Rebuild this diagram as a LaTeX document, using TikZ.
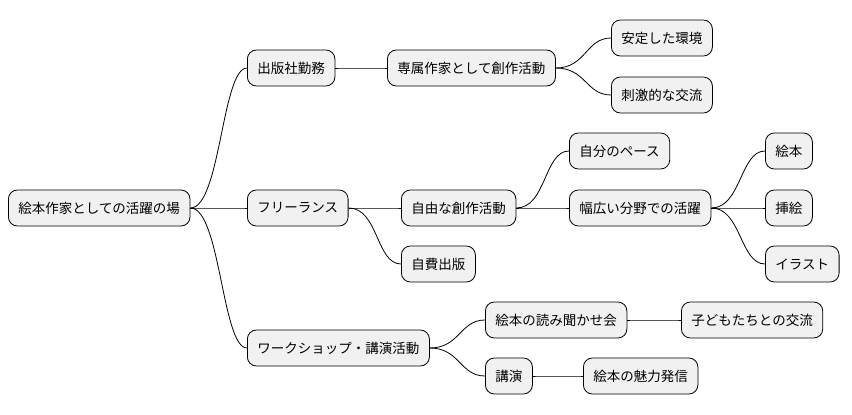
\documentclass[tikz,border=0pt]{standalone}
\usepackage{fontspec}
\setmainfont{Noto Sans CJK JP}
\begin{document}
\begin{tikzpicture}[x=1pt,y=-1pt,
  box/.style={draw=black,line width=0.8pt,fill={rgb,255:red,241;green,241;blue,241},rounded corners=9pt,minimum height=36pt,inner xsep=10pt,anchor=west,font=\fontsize{13.5}{16}\selectfont},
  edge/.style={line width=0.8pt}]
\useasboundingbox (0,0) rectangle (852,415);
\node[box] (r) at (8,208) {絵本作家としての活躍の場};
\node[box] (a) at (247,68) {出版社勤務};
\node[box] (a1) at (387,68) {専属作家として創作活動};
\node[box] (a11) at (611,38) {安定した環境};
\node[box] (a12) at (611,95) {刺激的な交流};
\node[box] (b) at (247,208) {フリーランス};
\node[box] (b1) at (401,208) {自由な創作活動};
\node[box] (b11) at (569,151) {自分のペース};
\node[box] (b12) at (569,208) {幅広い分野での活躍};
\node[box] (c1) at (765,151) {絵本};
\node[box] (c2) at (765,208) {挿絵};
\node[box] (c3) at (765,264) {イラスト};
\node[box] (b2) at (401,264) {自費出版};
\node[box] (w) at (247,348) {ワークショップ・講演活動};
\node[box] (w1) at (485,320) {絵本の読み聞かせ会};
\node[box] (w11) at (681,320) {子どもたちとの交流};
\node[box] (w2) at (485,376) {講演};
\node[box] (w21) at (583,376) {絵本の魅力発信};
\foreach \p/\c in {r/a,r/b,r/w,a/a1,a1/a11,a1/a12,b/b1,b/b2,b1/b11,b1/b12,b12/c1,b12/c2,b12/c3,w/w1,w/w2,w1/w11,w2/w21}
  \draw[edge] (\p.east) .. controls +(30,0) and +(-25,0) .. (\c.west);
\end{tikzpicture}
\end{document}
